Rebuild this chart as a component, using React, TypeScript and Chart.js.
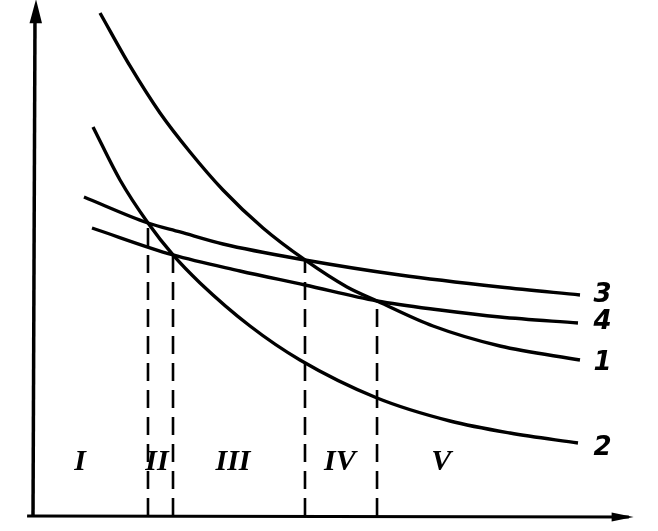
import React, { useEffect, useRef } from "react";
import { Chart, registerables } from "chart.js";

Chart.register(...registerables);

// Curves (arbitrary units, x: 0..100, y: 0..100)
const curve1X = [11.36, 16.44, 21.53, 26.61, 32.2, 38.98, 46.1, 53.22, 58.31, 67.8, 79.15, 92.71];
const curve1Y = [98.63, 88.24, 79.02, 71.37, 63.92, 56.47, 50.2, 44.9, 42.16, 37.25, 33.33, 30.59];

const curve2X = [10.17, 14.75, 19.49, 23.73, 28.31, 36.78, 45.25, 58.31, 70.68, 80.85, 92.37];
const curve2Y = [76.27, 65.88, 57.45, 51.18, 45.69, 37.25, 30.59, 23.14, 18.63, 16.27, 14.31];

const curve3X = [8.64, 19.49, 24.92, 32.2, 46.1, 62.2, 79.15, 92.71];
const curve3Y = [62.55, 57.45, 55.69, 53.33, 50.2, 47.25, 44.9, 43.33];

const curve4X = [10.0, 23.73, 35.08, 46.1, 58.31, 68.98, 79.15, 92.37];
const curve4Y = [56.47, 51.18, 48.04, 45.29, 42.16, 40.39, 39.02, 37.84];

// Vertical dashed boundaries (x, top y)
const boundaryX = [19.49, 23.73, 46.1, 58.31];
const boundaryTop = [57.45, 51.18, 50.2, 42.16];

// Zone labels
const zoneLabels = ["I", "II", "III", "IV", "V"];
const zoneX = [8.0, 21.0, 33.9, 52.0, 69.2];
const zoneY = 10.6;

// Curve labels
const curveLabels = ["3", "4", "1", "2"];
const curveLabelX = [95.0, 95.0, 95.0, 95.0];
const curveLabelY = [43.3, 37.9, 30.0, 13.3];

const toPts = (xs: number[], ys: number[]) => xs.map((x, i) => ({ x, y: ys[i] }));

export default function App() {
  const ref = useRef<HTMLCanvasElement | null>(null);

  useEffect(() => {
    document.body.style.margin = "0";
    const canvas = ref.current;
    if (!canvas) return;

    const curveStyle = {
      showLine: true,
      borderColor: "#000",
      borderWidth: 3.4,
      pointRadius: 0,
      cubicInterpolationMode: "monotone" as const,
      clip: false as any,
      fill: false,
    };

    const dashed = boundaryX.map((x, i) => ({
      data: [
        { x, y: 0 },
        { x, y: boundaryTop[i] },
      ],
      showLine: true,
      borderColor: "#000",
      borderWidth: 2.6,
      borderDash: [18, 9],
      pointRadius: 0,
      clip: false as any,
      fill: false,
    }));

    const overlay = {
      id: "overlay",
      afterDatasetsDraw(chart: any) {
        const ctx = chart.ctx as CanvasRenderingContext2D;
        const xs = chart.scales.x;
        const ys = chart.scales.y;
        const px = (v: number) => xs.getPixelForValue(v);
        const py = (v: number) => ys.getPixelForValue(v);
        ctx.save();
        ctx.strokeStyle = "#000";
        ctx.fillStyle = "#000";
        ctx.lineWidth = 3.5;
        ctx.lineCap = "butt";
        // y axis
        const ox = px(0);
        const oy = py(0);
        ctx.beginPath();
        ctx.moveTo(ox, oy + 1);
        ctx.lineTo(ox + 2, py(98));
        ctx.stroke();
        // y arrow
        const tipY = py(101.3);
        ctx.beginPath();
        ctx.moveTo(ox + 3, tipY);
        ctx.lineTo(ox - 3.5, tipY + 24);
        ctx.lineTo(ox + 9, tipY + 24);
        ctx.closePath();
        ctx.fill();
        // x axis
        ctx.lineWidth = 3;
        ctx.beginPath();
        ctx.moveTo(px(-1), oy);
        ctx.lineTo(px(101), oy + 1);
        ctx.stroke();
        // x arrow
        const tipX = px(101.8);
        ctx.beginPath();
        ctx.moveTo(tipX, oy + 1);
        ctx.lineTo(tipX - 22, oy - 3.5);
        ctx.lineTo(tipX - 22, oy + 5.5);
        ctx.closePath();
        ctx.fill();

        // zone labels
        ctx.textAlign = "center";
        ctx.textBaseline = "middle";
        ctx.font = "italic bold 30px 'Liberation Serif', serif";
        zoneLabels.forEach((t, i) => {
          ctx.fillText(t, px(zoneX[i]), py(zoneY));
        });
        // curve labels
        ctx.textAlign = "left";
        ctx.font = "italic bold 26px 'DejaVu Sans', sans-serif";
        curveLabels.forEach((t, i) => {
          ctx.fillText(t, px(curveLabelX[i]), py(curveLabelY[i]));
        });
        ctx.restore();
      },
    };

    const chart = new Chart(canvas, {
      type: "scatter",
      data: {
        datasets: [
          { data: toPts(curve1X, curve1Y), ...curveStyle },
          { data: toPts(curve2X, curve2Y), ...curveStyle },
          { data: toPts(curve3X, curve3Y), ...curveStyle },
          { data: toPts(curve4X, curve4Y), ...curveStyle },
          ...dashed,
        ] as any,
      },
      options: {
        responsive: false,
        animation: false,
        layout: { padding: { left: 33, top: 6, right: 35, bottom: 15 } },
        scales: {
          x: { type: "linear", min: 0, max: 100, display: false },
          y: { type: "linear", min: 0, max: 100, display: false },
        },
        plugins: {
          legend: { display: false },
          tooltip: { enabled: false },
        },
      },
      plugins: [overlay],
    });

    return () => chart.destroy();
  }, []);

  return (
    <div style={{ width: 658, height: 531, background: "#fff" }}>
      <canvas ref={ref} width={658} height={531} style={{ display: "block" }} />
    </div>
  );
}
